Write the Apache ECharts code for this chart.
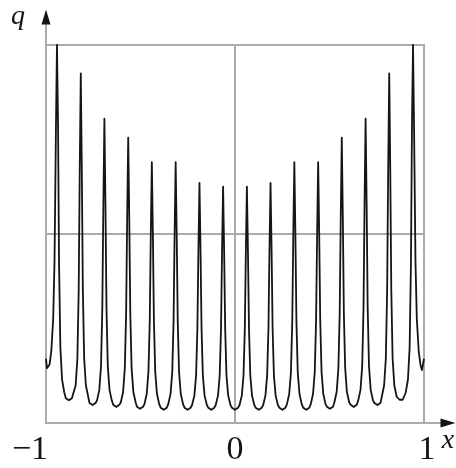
<!DOCTYPE html>
<html>
<head>
<meta charset="utf-8">
<script src="https://cdn.jsdelivr.net/npm/echarts@6/dist/echarts.min.js"></script>
<style>
  html, body { margin: 0; padding: 0; background: #fff; }
  #chart { width: 456px; height: 468px; }
</style>
</head>
<body>
<div id="chart"></div>
<script>
// Sampled density q(x) on [-1, 1]: sixteen sharp peaks with shallow rounded valleys between them.
const xValues = [
  -1.000, -0.995, -0.989, -0.981, -0.972, -0.962, -0.955, -0.9475,
  -0.942,
  -0.9365, -0.931, -0.924, -0.915, -0.903,
  -0.895, -0.887, -0.879, -0.871, -0.863,
  -0.855, -0.843, -0.834, -0.827, -0.8215, -0.816, -0.8105, -0.805, -0.798, -0.789, -0.777,
  -0.7695, -0.7615, -0.7535, -0.7455, -0.7375,
  -0.730, -0.718, -0.709, -0.702, -0.6965, -0.691, -0.6855, -0.680, -0.673, -0.664, -0.652,
  -0.644, -0.636, -0.628, -0.620, -0.612,
  -0.604, -0.592, -0.583, -0.576, -0.5705, -0.565, -0.5595, -0.554, -0.547, -0.538, -0.526,
  -0.5185, -0.5105, -0.5025, -0.4945, -0.4865,
  -0.479, -0.467, -0.458, -0.451, -0.4455, -0.440, -0.4345, -0.429, -0.422, -0.413, -0.401,
  -0.393, -0.385, -0.377, -0.369, -0.361,
  -0.353, -0.341, -0.332, -0.325, -0.3195, -0.314, -0.3085, -0.303, -0.296, -0.287, -0.275,
  -0.267, -0.259, -0.251, -0.243, -0.235,
  -0.227, -0.215, -0.206, -0.199, -0.1935, -0.188, -0.1825, -0.177, -0.170, -0.161, -0.149,
  -0.1415, -0.1335, -0.1255, -0.1175, -0.1095,
  -0.102, -0.090, -0.081, -0.074, -0.0685, -0.063, -0.0575, -0.052, -0.045, -0.036, -0.024,
  -0.016, -0.008, 0.000, 0.008, 0.016,
  0.024, 0.036, 0.045, 0.052, 0.0575, 0.063, 0.0685, 0.074, 0.081, 0.090, 0.102,
  0.1095, 0.1175, 0.1255, 0.1335, 0.1415,
  0.149, 0.161, 0.170, 0.177, 0.1825, 0.188, 0.1935, 0.199, 0.206, 0.215, 0.227,
  0.235, 0.243, 0.251, 0.259, 0.267,
  0.275, 0.287, 0.296, 0.303, 0.3085, 0.314, 0.3195, 0.325, 0.332, 0.341, 0.353,
  0.361, 0.369, 0.377, 0.385, 0.393,
  0.401, 0.413, 0.422, 0.429, 0.4345, 0.440, 0.4455, 0.451, 0.458, 0.467, 0.479,
  0.4865, 0.4945, 0.5025, 0.5105, 0.5185,
  0.526, 0.538, 0.547, 0.554, 0.5595, 0.565, 0.5705, 0.576, 0.583, 0.592, 0.604,
  0.612, 0.620, 0.628, 0.636, 0.644,
  0.652, 0.664, 0.673, 0.680, 0.6855, 0.691, 0.6965, 0.702, 0.709, 0.718, 0.730,
  0.7375, 0.7455, 0.7535, 0.7615, 0.7695,
  0.777, 0.789, 0.798, 0.805, 0.8105, 0.816, 0.8215, 0.827, 0.834, 0.843, 0.855,
  0.863, 0.871, 0.879, 0.887, 0.895,
  0.903, 0.915, 0.924, 0.931, 0.9365,
  0.942,
  0.9475, 0.955, 0.962, 0.972, 0.981, 0.989, 0.995, 1.000
];

const qValues = [
  0.34, 0.29, 0.28, 0.31, 0.38, 0.55, 0.85, 1.55,
  2.00,
  1.60, 0.85, 0.40, 0.23, 0.16,
  0.131, 0.123, 0.12, 0.123, 0.131,
  0.14, 0.20, 0.34, 0.70, 1.34, 1.85, 1.34, 0.70, 0.34, 0.20, 0.14,
  0.106, 0.098, 0.095, 0.098, 0.106,
  0.12, 0.175, 0.30, 0.61, 1.16, 1.61, 1.16, 0.61, 0.30, 0.175, 0.12,
  0.096, 0.088, 0.085, 0.088, 0.096,
  0.11, 0.165, 0.29, 0.58, 1.09, 1.51, 1.09, 0.58, 0.29, 0.165, 0.11,
  0.086, 0.078, 0.075, 0.078, 0.086,
  0.10, 0.155, 0.27, 0.54, 1.00, 1.38, 1.00, 0.54, 0.27, 0.155, 0.10,
  0.081, 0.073, 0.07, 0.073, 0.081,
  0.10, 0.155, 0.27, 0.54, 1.00, 1.38, 1.00, 0.54, 0.27, 0.155, 0.10,
  0.081, 0.073, 0.07, 0.073, 0.081,
  0.095, 0.145, 0.25, 0.50, 0.92, 1.27, 0.92, 0.50, 0.25, 0.145, 0.095,
  0.081, 0.073, 0.07, 0.073, 0.081,
  0.095, 0.145, 0.25, 0.50, 0.91, 1.25, 0.91, 0.50, 0.25, 0.145, 0.095,
  0.081, 0.073, 0.07, 0.073, 0.081,
  0.095, 0.145, 0.25, 0.50, 0.91, 1.25, 0.91, 0.50, 0.25, 0.145, 0.095,
  0.081, 0.073, 0.07, 0.073, 0.081,
  0.095, 0.145, 0.25, 0.50, 0.92, 1.27, 0.92, 0.50, 0.25, 0.145, 0.095,
  0.081, 0.073, 0.07, 0.073, 0.081,
  0.10, 0.155, 0.27, 0.54, 1.00, 1.38, 1.00, 0.54, 0.27, 0.155, 0.10,
  0.081, 0.073, 0.07, 0.073, 0.081,
  0.10, 0.155, 0.27, 0.54, 1.00, 1.38, 1.00, 0.54, 0.27, 0.155, 0.10,
  0.086, 0.078, 0.075, 0.078, 0.086,
  0.11, 0.165, 0.29, 0.58, 1.09, 1.51, 1.09, 0.58, 0.29, 0.165, 0.11,
  0.096, 0.088, 0.085, 0.088, 0.096,
  0.12, 0.175, 0.30, 0.61, 1.16, 1.61, 1.16, 0.61, 0.30, 0.175, 0.12,
  0.106, 0.098, 0.095, 0.098, 0.106,
  0.14, 0.20, 0.34, 0.70, 1.34, 1.85, 1.34, 0.70, 0.34, 0.20, 0.14,
  0.131, 0.123, 0.12, 0.123, 0.131,
  0.16, 0.23, 0.40, 0.85, 1.60,
  2.00,
  1.55, 0.85, 0.55, 0.38, 0.31, 0.28, 0.29, 0.34
];

// Tick labels along x; q has no printed ticks.
const xTickValues = [-1, 0, 1];
const xTickLabels = ['\u22121', '0', '1'];

const curve = xValues.map((x, i) => [x, qValues[i]]);

const GRAY = '#ababab';
const INK = '#151515';
const SERIF = '"Liberation Serif", "DejaVu Serif", serif';

const hiddenParts = {
  axisTick: { show: false },
  axisLabel: { show: false },
  splitLine: { show: false }
};

const chart = echarts.init(document.getElementById('chart'), null, { renderer: 'canvas' });

chart.setOption({
  animation: false,
  backgroundColor: '#fff',
  grid: [
    // plotting frame
    { left: 46, right: 32, top: 45, bottom: 45, show: true, borderColor: GRAY, borderWidth: 2,
      backgroundColor: 'transparent', containLabel: false, outerBoundsMode: 'none' },
    // extended axes carrying the arrows
    { left: 46, right: 8, top: 17, bottom: 45, containLabel: false, outerBoundsMode: 'none' }
  ],
  xAxis: [
    {
      gridIndex: 0, type: 'value', min: -1, max: 1, interval: 1,
      axisLine: { show: false },
      axisTick: { show: false },
      splitLine: { show: true, lineStyle: { color: GRAY, width: 2 } },
      axisLabel: {
        show: true, margin: 10, color: INK, fontFamily: SERIF, fontSize: 34,
        formatter: v => {
          const i = xTickValues.indexOf(v);
          if (i < 0) return '';
          if (v < 0) return xTickLabels[i] + '{pad|}';
          if (v > 0) return '{pad2|}' + xTickLabels[i];
          return xTickLabels[i];
        },
        rich: { pad: { width: 32 }, pad2: { width: 6 } }
      }
    },
    {
      gridIndex: 1, type: 'value', min: 0, max: 1,
      axisLine: { show: true, lineStyle: { color: GRAY, width: 2 } },
      ...hiddenParts
    },
    {
      gridIndex: 1, type: 'value', min: 0, max: 1, position: 'bottom',
      axisLine: {
        show: true, symbol: ['none', 'triangle'], symbolSize: [9, 15],
        lineStyle: { color: INK, opacity: 0 }
      },
      name: 'x', nameLocation: 'end', nameGap: 0,
      nameTextStyle: {
        color: INK, fontFamily: SERIF, fontStyle: 'italic', fontSize: 28,
        align: 'center', verticalAlign: 'top', padding: [4, 0, 0, 0]
      },
      ...hiddenParts
    }
  ],
  yAxis: [
    {
      gridIndex: 0, type: 'value', min: 0, max: 2, interval: 1,
      axisLine: { show: false },
      axisTick: { show: false },
      axisLabel: { show: false },
      splitLine: { show: true, lineStyle: { color: GRAY, width: 2 } }
    },
    {
      gridIndex: 1, type: 'value', min: 0, max: 1,
      axisLine: { show: true, lineStyle: { color: GRAY, width: 2 } },
      ...hiddenParts
    },
    {
      gridIndex: 1, type: 'value', min: 0, max: 1, position: 'left',
      axisLine: {
        show: true, symbol: ['none', 'triangle'], symbolSize: [9, 15],
        lineStyle: { color: INK, opacity: 0 }
      },
      name: 'q', nameLocation: 'end', nameGap: 0,
      nameTextStyle: {
        color: INK, fontFamily: SERIF, fontStyle: 'italic', fontSize: 28,
        align: 'right', verticalAlign: 'middle', padding: [0, 21, 18, 0]
      },
      ...hiddenParts
    }
  ],
  series: [
    {
      type: 'line',
      xAxisIndex: 0, yAxisIndex: 0,
      data: curve,
      showSymbol: false,
      clip: true,
      z: 5,
      lineStyle: { color: INK, width: 1.8, join: 'round' }
    }
  ]
});
</script>
</body>
</html>
